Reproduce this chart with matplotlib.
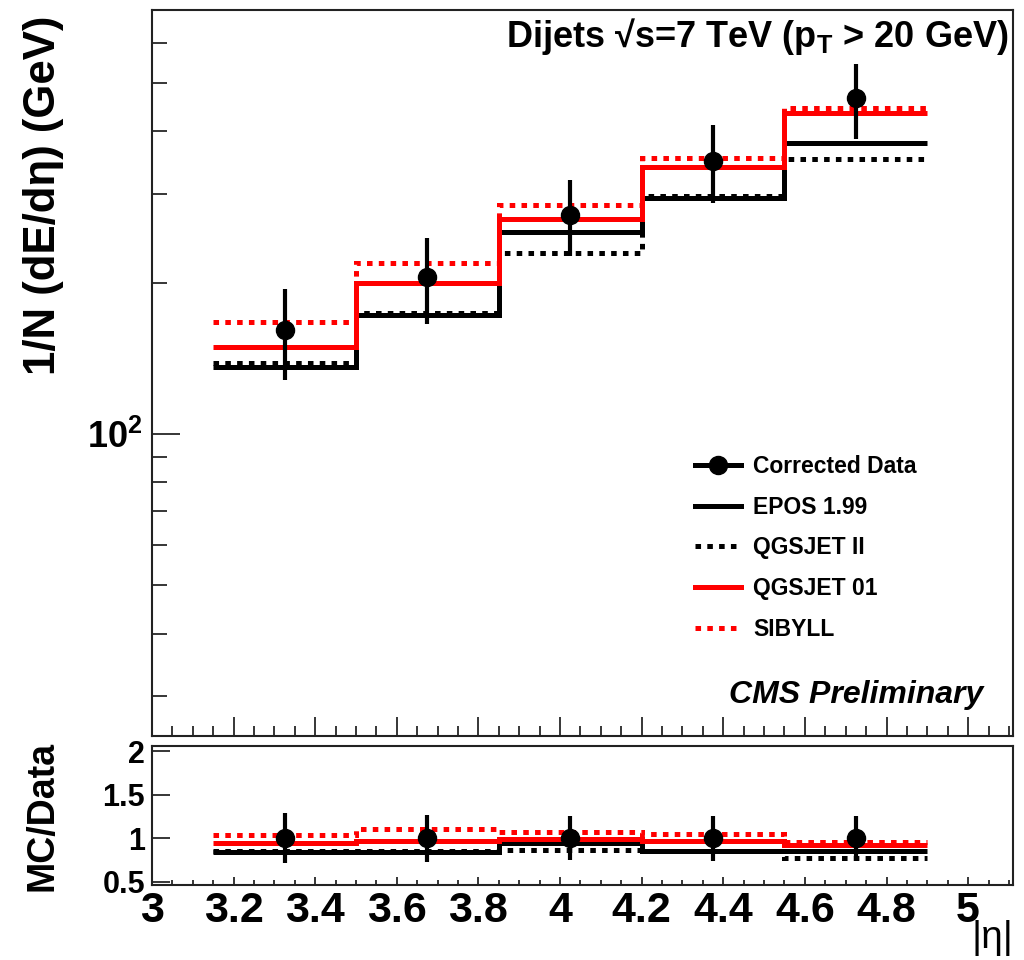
import numpy as np
import matplotlib
matplotlib.use("Agg")
import matplotlib.pyplot as plt
from matplotlib.ticker import FixedLocator, MultipleLocator, NullFormatter, FuncFormatter, LogLocator
from matplotlib.lines import Line2D

plt.rcParams['font.family'] = ['Liberation Sans', 'DejaVu Sans']
plt.rcParams['mathtext.fontset'] = 'custom'
plt.rcParams['mathtext.rm'] = 'Liberation Sans'
plt.rcParams['mathtext.bf'] = 'Liberation Sans:bold'
plt.rcParams['mathtext.it'] = 'Liberation Sans:italic'
plt.rcParams['lines.scale_dashes'] = False

# ---- data ----
bin_edges = [3.15, 3.5, 3.85, 4.2, 4.55, 4.9]
data_vals = [161, 205.5, 273, 349.5, 466]
data_errs = [33, 40, 47, 62, 80]
epos = [135.5, 172, 252.5, 295, 380]
qgsjet2 = [138.5, 174, 229.5, 297, 352.5]
qgsjet01 = [148.5, 200, 268, 340, 435]
sibyll = [167, 219, 286, 354, 445]

ratio_epos = [0.84, 0.84, 0.94, 0.85, 0.85]
ratio_qgsjet2 = [0.85, 0.85, 0.86, 0.85, 0.77]
ratio_qgsjet01 = [0.94, 0.97, 0.99, 0.97, 0.92]
ratio_sibyll = [1.03, 1.10, 1.07, 1.05, 0.96]
ratio_data = [1.0, 1.0, 1.0, 1.0, 1.0]
ratio_data_errs = [0.285, 0.27, 0.25, 0.26, 0.26]

legend_labels = ['Corrected Data', 'EPOS 1.99', 'QGSJET II', 'QGSJET 01', 'SIBYLL']
x_ticks = [3, 3.2, 3.4, 3.6, 3.8, 4, 4.2, 4.4, 4.6, 4.8, 5]
x_tick_labels = ['3', '3.2', '3.4', '3.6', '3.8', '4', '4.2', '4.4', '4.6', '4.8', '5']
ratio_ticks = [0.5, 1, 1.5, 2]
ratio_tick_labels = ['0.5', '1', '1.5', '2']

edges = np.array(bin_edges)
centers = 0.5 * (edges[:-1] + edges[1:])

W, H = 1024, 960
fig = plt.figure(figsize=(W / 100, H / 100), dpi=100)

def fx(p):
    return p / W

def fy(p):
    return 1 - p / H

ax = fig.add_axes([fx(152), fy(736), (1013 - 152) / W, (736 - 10) / H])
axr = fig.add_axes([fx(152), fy(885), (1013 - 152) / W, (885 - 746) / H])

LW = 3.6
dots = (4.0, 4.5)
RED = '#ff0000'

styles = [
    (epos, ratio_epos, dict(color='black', lw=LW, ls='-')),
    (qgsjet2, ratio_qgsjet2, dict(color='black', lw=LW, ls=(0, dots))),
    (qgsjet01, ratio_qgsjet01, dict(color=RED, lw=LW, ls='-')),
    (sibyll, ratio_sibyll, dict(color=RED, lw=LW, ls=(0, dots))),
]
for vals, rvals, st in styles:
    ax.stairs(vals, edges, baseline=None, **st)
    axr.stairs(rvals, edges, baseline=None, **st)

ax.errorbar(centers, data_vals, yerr=data_errs, fmt='o', color='black', ms=13,
            elinewidth=3, capsize=0, zorder=5)
axr.errorbar(centers, ratio_data, yerr=ratio_data_errs, fmt='o', color='black', ms=13,
             elinewidth=3, capsize=0, zorder=5)

# ---- upper axes ----
ax.set_yscale('log')
ax.set_xlim(3, 5.11)
ax.set_ylim(25, 698)
ax.yaxis.set_major_locator(FixedLocator([100]))
ax.yaxis.set_major_formatter(FuncFormatter(lambda v, p: r'$\mathbf{10^{2}}$'))
ax.yaxis.set_minor_locator(LogLocator(base=10, subs=np.arange(2, 10)))
ax.yaxis.set_minor_formatter(NullFormatter())
ax.xaxis.set_major_locator(MultipleLocator(0.2))
ax.xaxis.set_minor_locator(MultipleLocator(0.05))
ax.tick_params(axis='x', which='major', direction='in', length=14, width=1.1, labelbottom=False)
ax.tick_params(axis='x', which='minor', direction='in', length=7, width=1.1)
ax.tick_params(axis='y', which='major', direction='in', length=20, width=1.1, labelsize=26, pad=7)
ax.tick_params(axis='y', which='minor', direction='in', length=11, width=1.1)
for s in ax.spines.values():
    s.set_linewidth(1.5)
    s.set_color('#222222')

# ---- ratio axes ----
axr.set_xlim(3, 5.11)
axr.set_ylim(0.46, 2.06)
axr.set_xticks(x_ticks)
axr.set_xticklabels(x_tick_labels, fontsize=31, fontweight='bold')
axr.xaxis.set_minor_locator(MultipleLocator(0.05))
axr.set_yticks(ratio_ticks)
axr.set_yticklabels(ratio_tick_labels, fontsize=22, fontweight='bold')
axr.tick_params(axis='x', which='major', direction='in', length=6, width=1.1, pad=4)
axr.tick_params(axis='x', which='minor', direction='in', length=3.5, width=1.1)
axr.tick_params(axis='y', which='major', direction='in', length=13, width=1.1, pad=5)
for s in axr.spines.values():
    s.set_linewidth(1.5)
    s.set_color('#222222')

# ---- legend ----
handles = [
    Line2D([], [], color='black', lw=LW, marker='o', ms=13),
    Line2D([], [], color='black', lw=LW, ls='-'),
    Line2D([], [], color='black', lw=LW, ls=(0, dots)),
    Line2D([], [], color=RED, lw=LW, ls='-'),
    Line2D([], [], color=RED, lw=LW, ls=(0, dots)),
]
leg = ax.legend(handles, legend_labels, loc='upper left',
                bbox_to_anchor=(fx(695), fy(455)), bbox_transform=fig.transFigure,
                frameon=False, prop=dict(family='Liberation Sans', weight='bold', size=16.5),
                handlelength=2.0, handletextpad=0.55, labelspacing=0.77, borderpad=0, borderaxespad=0)

# ---- texts ----
fig.text(fx(1009), fy(47), r'Dijets √s=7 TeV (p$_{\mathbf{T}}$ > 20 GeV)', ha='right', va='baseline',
         fontsize=26, fontweight='bold')
fig.text(fx(983), fy(695), 'CMS Preliminary', ha='right', va='center', fontsize=23,
         fontweight='bold', fontstyle='italic')
fig.text(fx(44), fy(195), '1/N (dE/dη) (GeV)', rotation=90, ha='center', va='center',
         fontsize=31.5, fontweight='bold')
fig.text(fx(42), fy(816), 'MC/Data', rotation=90, ha='center', va='center',
         fontsize=27, fontweight='bold')
fig.text(fx(992), fy(938), '|η|', ha='center', va='center', fontsize=28)

fig.savefig('out.png', dpi=100)
